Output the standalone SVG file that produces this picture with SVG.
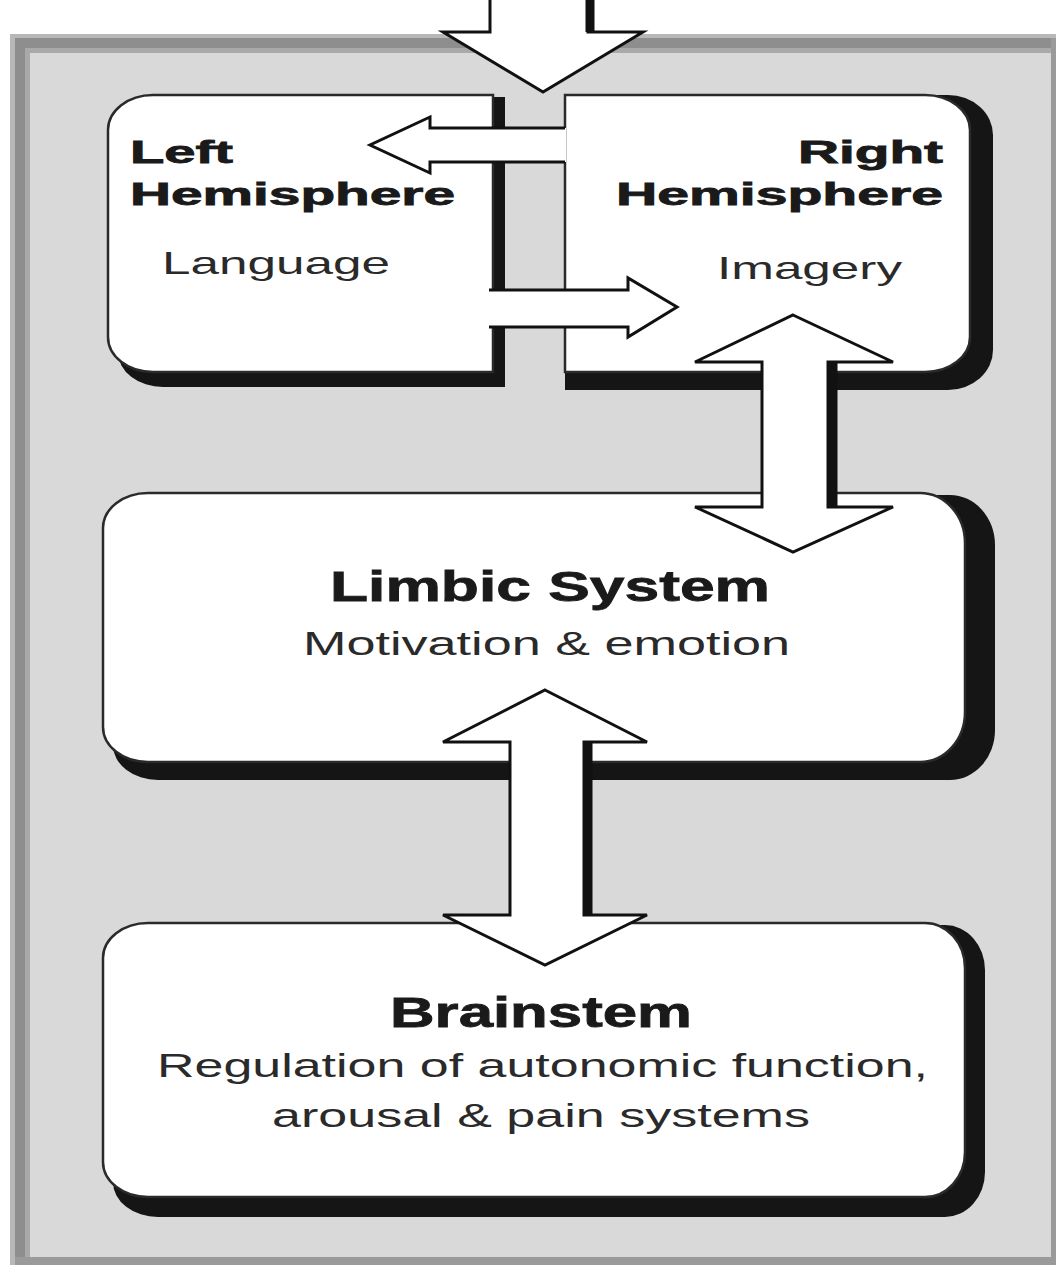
<svg xmlns="http://www.w3.org/2000/svg" width="1056" height="1267" viewBox="0 0 1056 1267">
<style>
.shadow{fill:#151515}
.box{fill:#fff;stroke:#2a2a2a;stroke-width:2.5}
.afill{fill:#fff;stroke:none}
.aline{fill:none;stroke:#111;stroke-width:3;stroke-linejoin:miter}
.thick{stroke:#111;stroke-width:9;fill:none}
.title{font-family:"Liberation Sans",Arial,Helvetica,sans-serif;font-weight:bold;fill:#1a1a1a;stroke:#1a1a1a;stroke-width:0.8}
.sub{font-family:"Liberation Sans",Arial,Helvetica,sans-serif;fill:#2a2a2a}
</style>
<rect x="0" y="0" width="1056" height="1267" fill="#fff"/>
<g id="panel">
<rect x="10" y="34" width="1046" height="1231" fill="#d9d9d9"/>
<rect x="10" y="34" width="1046" height="4" fill="#b8b8b8"/>
<rect x="14" y="38" width="1042" height="10" fill="#8e8e8e"/>
<rect x="14" y="48" width="1042" height="5" fill="#a9a9a9"/>
<rect x="10" y="34" width="5" height="1231" fill="#b8b8b8"/>
<rect x="15" y="38" width="10" height="1227" fill="#8e8e8e"/>
<rect x="25" y="48" width="5" height="1217" fill="#a9a9a9"/>
<rect x="1051" y="38" width="5" height="1227" fill="#9a9a9a"/>
<rect x="15" y="1257" width="1041" height="8" fill="#9a9a9a"/>
</g>
<g id="left-hemisphere">
<path class="shadow" d="M168,97 H505 V387 H163 A45,35 0 0 1 118,352 V132 A45,35 0 0 1 168,97 Z"/>
<path class="box" d="M153,95 H493 V372 H153 A45,35 0 0 1 108,337 V130 A45,35 0 0 1 153,95 Z"/>
<text class="title" x="130" y="163" font-size="32" textLength="103" lengthAdjust="spacingAndGlyphs">Left</text>
<text class="title" x="130" y="205" font-size="32" textLength="325" lengthAdjust="spacingAndGlyphs">Hemisphere</text>
<text class="sub" x="162" y="274" font-size="32" textLength="228" lengthAdjust="spacingAndGlyphs">Language</text>
</g>
<g id="right-hemisphere">
<path class="shadow" d="M565,95 H948 A45,40 0 0 1 993,135 V350 A45,40 0 0 1 948,390 H565 Z"/>
<path class="box" d="M565,95 H925 A45,35 0 0 1 970,130 V337 A45,35 0 0 1 925,372 H565 Z"/>
<text class="title" x="798" y="163" font-size="32" textLength="145" lengthAdjust="spacingAndGlyphs">Right</text>
<text class="title" x="616" y="205" font-size="32" textLength="327" lengthAdjust="spacingAndGlyphs">Hemisphere</text>
<text class="sub" x="717" y="279" font-size="32" textLength="185" lengthAdjust="spacingAndGlyphs">Imagery</text>
</g>
<g id="limbic-system">
<path class="shadow" d="M163,495 H950 A45,50 0 0 1 995,545 V730 A45,50 0 0 1 950,780 H158 A45,35 0 0 1 113,745 V530 A45,35 0 0 1 163,495 Z"/>
<path class="box" d="M148,493 H920 A45,50 0 0 1 965,543 V712 A45,50 0 0 1 920,762 H148 A45,35 0 0 1 103,727 V528 A45,35 0 0 1 148,493 Z"/>
<text class="title" x="330" y="601" font-size="43" textLength="440" lengthAdjust="spacingAndGlyphs">Limbic System</text>
<text class="sub" x="303" y="655" font-size="34" textLength="487" lengthAdjust="spacingAndGlyphs">Motivation &amp; emotion</text>
</g>
<g id="brainstem">
<path class="shadow" d="M163,925 H945 A40,45 0 0 1 985,970 V1172 A40,45 0 0 1 945,1217 H158 A45,35 0 0 1 113,1182 V960 A45,35 0 0 1 163,925 Z"/>
<path class="box" d="M148,923 H925 A40,45 0 0 1 965,968 V1152 A40,45 0 0 1 925,1197 H148 A45,35 0 0 1 103,1162 V958 A45,35 0 0 1 148,923 Z"/>
<text class="title" x="390" y="1027" font-size="43" textLength="302" lengthAdjust="spacingAndGlyphs">Brainstem</text>
<text class="sub" x="157" y="1077" font-size="34" textLength="771" lengthAdjust="spacingAndGlyphs">Regulation of autonomic function,</text>
<text class="sub" x="272" y="1127" font-size="34" textLength="538" lengthAdjust="spacingAndGlyphs">arousal &amp; pain systems</text>
</g>
<g id="connectors">
<polygon class="afill" points="490,-5 588,-5 588,32 643,32 543,92 443,32 490,32"/>
<path class="aline" d="M490,-5 V32 H443 L543,92 L643,32 H588 V-5"/>
<line class="thick" x1="590" y1="-5" x2="590" y2="32" stroke-width="6"/>
<polygon class="afill" points="566,128 430,128 430,117 370,145 430,173 430,162 566,162"/>
<path class="aline" d="M565,128 H430 V117 L370,145 L430,173 V162 H565"/>
<polygon class="afill" points="489,290 628,290 628,278 677,307 628,337 628,327 489,327"/>
<path class="aline" d="M489,290 H628 V278 L677,307 L628,337 V327 H489"/>
<polygon class="afill" points="793,315 893,362 828,362 828,507 893,507 793,552 695,507 762,507 762,362 695,362"/>
<path class="aline" d="M793,315 L893,362 H828 V507 H893 L793,552 L695,507 H762 V362 H695 Z"/>
<line class="thick" x1="833" y1="362" x2="833" y2="507"/>
<polygon class="afill" points="545,690 647,742 584,742 584,915 647,915 545,965 443,915 510,915 510,742 443,742"/>
<path class="aline" d="M545,690 L647,742 H584 V915 H647 L545,965 L443,915 H510 V742 H443 Z"/>
<line class="thick" x1="588" y1="742" x2="588" y2="915"/>
</g>
</svg>
